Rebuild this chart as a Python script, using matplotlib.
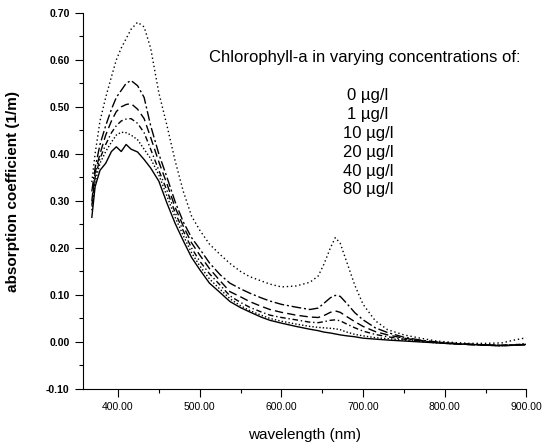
import matplotlib
matplotlib.use('Agg')
import matplotlib.pyplot as plt
from matplotlib.ticker import MultipleLocator, FormatStrFormatter

plt.rcParams['font.family'] = ['Liberation Sans', 'DejaVu Sans']

# wavelength grid (nm) shared by all spectra
wavelength = [368, 372, 378, 385, 392, 398, 404, 410, 416, 424, 432, 440, 450, 460, 470,
              480, 490, 500, 512, 525, 537, 550, 561, 575, 586, 600, 618, 635, 645, 652,
              660, 666, 672, 680, 690, 700, 715, 730, 750, 770, 790, 810, 830, 850, 870,
              885, 900]

# absorption coefficient (1/m) for each chlorophyll-a concentration
chl_0 = [0.265, 0.33, 0.365, 0.38, 0.405, 0.415, 0.405, 0.42, 0.41, 0.404, 0.388, 0.37, 0.342,
         0.295, 0.252, 0.215, 0.18, 0.154, 0.125, 0.105, 0.086, 0.073, 0.064, 0.053, 0.046,
         0.04, 0.033, 0.027, 0.024, 0.021, 0.019, 0.017, 0.015, 0.013, 0.011, 0.008, 0.006,
         0.004, 0.002, 0.0, -0.002, -0.004, -0.005, -0.007, -0.008, -0.007, -0.005]
chl_1 = [0.28, 0.34, 0.38, 0.405, 0.425, 0.44, 0.446, 0.445, 0.44, 0.43, 0.41, 0.39, 0.355,
         0.31, 0.265, 0.226, 0.19, 0.162, 0.134, 0.112, 0.092, 0.077, 0.067, 0.057, 0.05,
         0.044, 0.038, 0.033, 0.031, 0.03, 0.029, 0.028, 0.026, 0.021, 0.016, 0.013, 0.009,
         0.007, 0.004, 0.001, -0.002, -0.004, -0.005, -0.007, -0.008, -0.006, -0.004]
chl_10 = [0.29, 0.35, 0.39, 0.42, 0.445, 0.46, 0.47, 0.474, 0.475, 0.465, 0.445, 0.41, 0.365,
          0.322, 0.275, 0.236, 0.2, 0.172, 0.145, 0.121, 0.098, 0.084, 0.074, 0.064, 0.057,
          0.052, 0.047, 0.042, 0.041, 0.043, 0.046, 0.047, 0.045, 0.038, 0.03, 0.023, 0.016,
          0.011, 0.006, 0.002, -0.001, -0.003, -0.005, -0.006, -0.007, -0.006, -0.004]
chl_20 = [0.30, 0.36, 0.40, 0.44, 0.47, 0.49, 0.50, 0.505, 0.507, 0.495, 0.475, 0.435, 0.383,
          0.336, 0.286, 0.246, 0.211, 0.185, 0.156, 0.13, 0.107, 0.096, 0.086, 0.076, 0.069,
          0.063, 0.057, 0.053, 0.052, 0.056, 0.063, 0.066, 0.063, 0.054, 0.043, 0.033, 0.022,
          0.015, 0.008, 0.003, -0.001, -0.004, -0.006, -0.007, -0.008, -0.007, -0.006]
chl_40 = [0.32, 0.37, 0.42, 0.46, 0.495, 0.52, 0.535, 0.55, 0.556, 0.545, 0.52, 0.46, 0.40,
          0.35, 0.298, 0.255, 0.222, 0.198, 0.168, 0.143, 0.125, 0.113, 0.104, 0.094, 0.087,
          0.08, 0.074, 0.069, 0.072, 0.082, 0.094, 0.099, 0.097, 0.082, 0.062, 0.047, 0.03,
          0.02, 0.01, 0.004, 0.0, -0.003, -0.005, -0.006, -0.007, -0.006, -0.006]
chl_80 = [0.34, 0.40, 0.47, 0.52, 0.564, 0.60, 0.625, 0.645, 0.665, 0.68, 0.67, 0.625, 0.53,
          0.46, 0.385, 0.32, 0.268, 0.238, 0.208, 0.186, 0.167, 0.15, 0.139, 0.13, 0.123,
          0.117, 0.119, 0.127, 0.14, 0.165, 0.2, 0.222, 0.21, 0.17, 0.12, 0.08, 0.045,
          0.026, 0.015, 0.008, 0.002, -0.001, -0.003, -0.003, -0.002, 0.004, 0.009]

series = [chl_0, chl_1, chl_10, chl_20, chl_40, chl_80]
styles = ['-', (0, (1, 1.5)), (0, (4, 2, 1, 2)), (0, (6, 3)), (0, (7, 2, 1.5, 2)), (0, (1, 2))]
conc_labels = ['0 µg/l', '1 µg/l', '10 µg/l', '20 µg/l', '40 µg/l', '80 µg/l']

fig = plt.figure(figsize=(5.45, 4.42), dpi=100)
ax = fig.add_axes([0.152, 0.12, 0.814, 0.851])

for vals, ls in zip(series, styles):
    ax.plot(wavelength, vals, color='black', linestyle=ls, linewidth=1.0)

ax.set_xlim(357, 900)
ax.set_ylim(-0.10, 0.70)
ax.spines['top'].set_visible(False)
ax.spines['right'].set_visible(False)

ax.xaxis.set_major_locator(MultipleLocator(100))
ax.xaxis.set_minor_locator(MultipleLocator(50))
ax.yaxis.set_major_locator(MultipleLocator(0.1))
ax.yaxis.set_minor_locator(MultipleLocator(0.05))
ax.xaxis.set_major_formatter(FormatStrFormatter('%.2f'))
ax.yaxis.set_major_formatter(FormatStrFormatter('%.2f'))
ax.tick_params(which='major', direction='out', length=6, width=0.8, labelsize=7.5)
ax.tick_params(which='minor', direction='out', length=3, width=0.8)
for lbl in ax.get_yticklabels():
    lbl.set_fontweight('bold')

ax.set_xlabel('wavelength (nm)', fontsize=11)
ax.set_ylabel('absorption coefficient (1/m)', fontsize=11, fontweight='bold')
ax.xaxis.set_label_coords(0.5, -0.105)
ax.yaxis.set_label_coords(-0.142, 0.525)

# annotation block in the upper right
fig.text(0.67, 0.871, 'Chlorophyll-a in varying concentrations of:', fontsize=12,
         ha='center', va='center')
for i, lab in enumerate(conc_labels):
    fig.text(0.675, 0.783 - i * 0.0425, lab, fontsize=12, ha='center', va='center')

plt.savefig('out.png', dpi=100)
